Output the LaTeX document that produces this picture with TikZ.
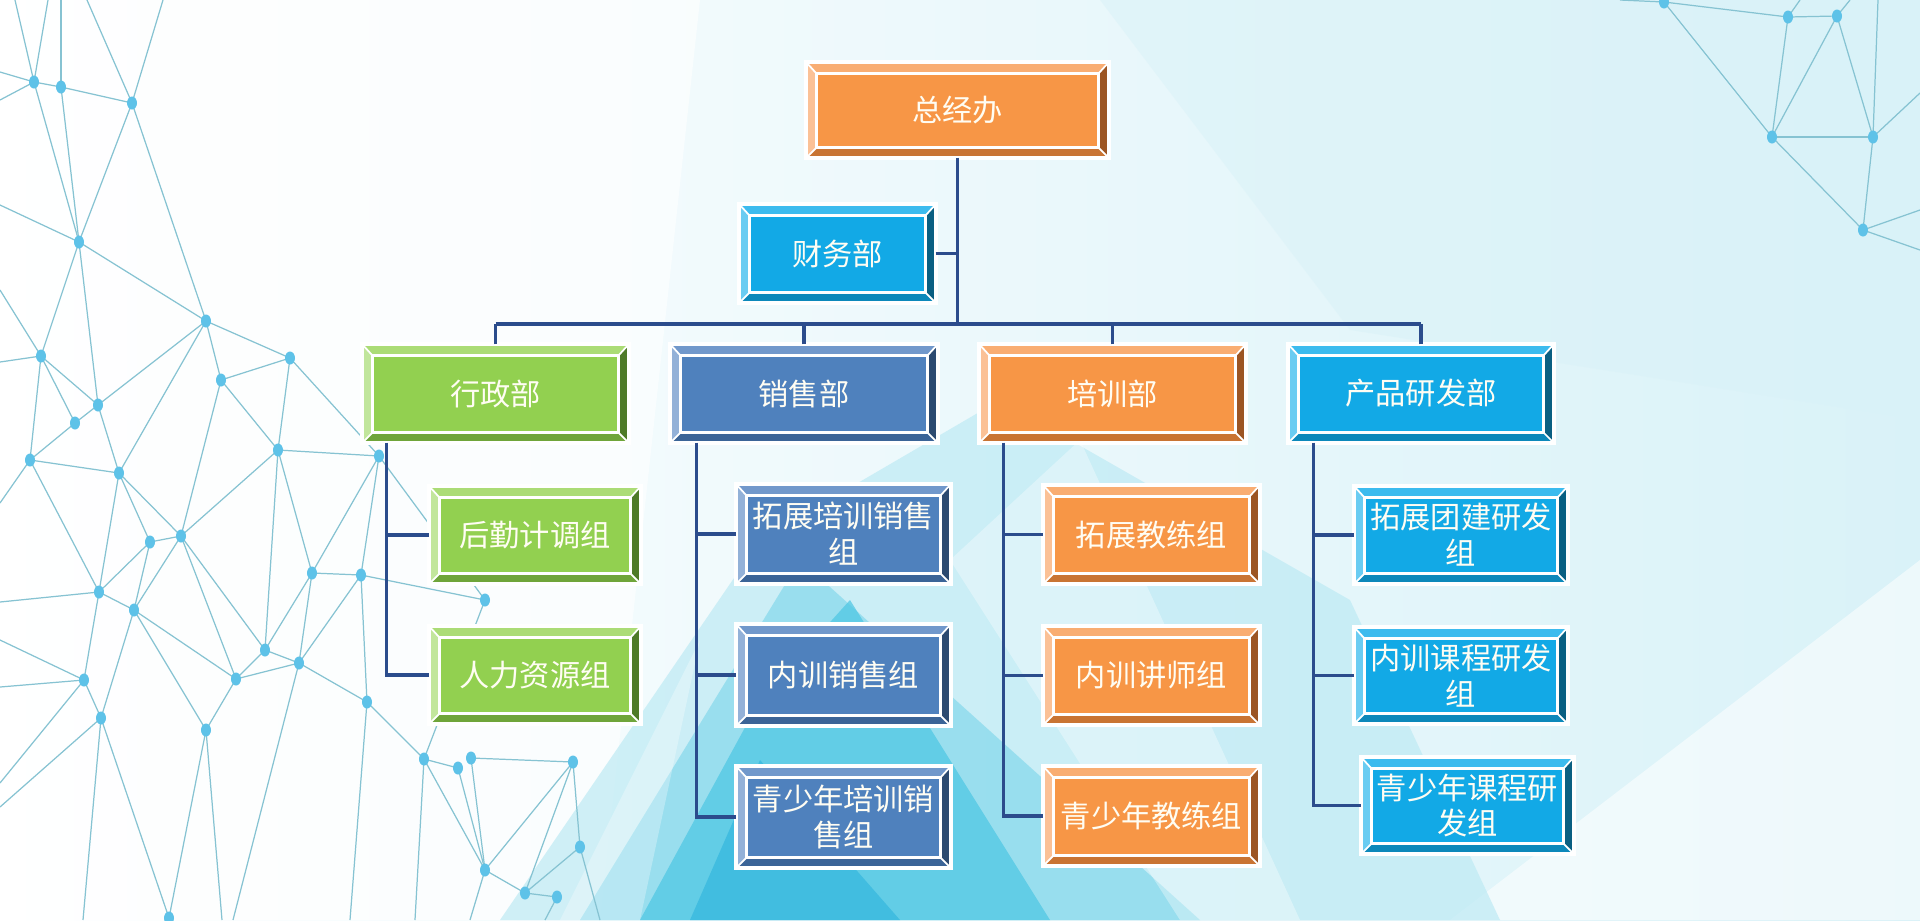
\documentclass[tikz,border=0pt]{standalone}
\usepackage{fontspec}
\setmainfont{Noto Sans CJK SC}
\usetikzlibrary{calc}
\definecolor{orM}{HTML}{F79646}\definecolor{orT}{HTML}{F9AD72}\definecolor{orL}{HTML}{FBC196}\definecolor{orR}{HTML}{9C5523}\definecolor{orB}{HTML}{C97433}
\definecolor{cyM}{HTML}{12A9E6}\definecolor{cyT}{HTML}{3CBBEE}\definecolor{cyL}{HTML}{6ACCF2}\definecolor{cyR}{HTML}{0A5F82}\definecolor{cyB}{HTML}{0C88BA}
\definecolor{sbM}{HTML}{4F81BD}\definecolor{sbT}{HTML}{7198CB}\definecolor{sbL}{HTML}{93B1D8}\definecolor{sbR}{HTML}{2C4A70}\definecolor{sbB}{HTML}{3B6497}
\definecolor{grM}{HTML}{92D050}\definecolor{grT}{HTML}{ABDC76}\definecolor{grL}{HTML}{C2E69C}\definecolor{grR}{HTML}{4E7A28}\definecolor{grB}{HTML}{6FA53A}
\definecolor{lineblue}{HTML}{2B4C8C}
\definecolor{netline}{HTML}{86C3D2}
\definecolor{netdot}{HTML}{5EC2E8}
\definecolor{txt}{HTML}{FFFDF3}
\definecolor{bgR}{HTML}{D9F2F8}
\definecolor{bgA}{HTML}{BDEAF4}
\definecolor{bgB}{HTML}{84D8EC}
\definecolor{bgC}{HTML}{4CC6E3}
\definecolor{bgD}{HTML}{22AEDB}
\tikzset{
  boxtext/.style={inner sep=0pt, align=center, text=txt, font=\fontsize{8.6}{10.2}\selectfont},
  conn/.style={draw=lineblue, line width=0.9pt},
  net/.style={draw=netline, line width=0.35pt},
  netnode/.style={fill=netdot},
  whiteline/.style={draw=white, line width=0.8pt},
}
\newcommand\bvbox[7]{%
  \node[boxtext, fill=#6M, minimum width=#4*0.01cm, minimum height=#5*0.01cm] (#1) at (#2,#3) {#7};
  \fill[#6T] (#1.north west) -- (#1.north east) -- ($(#1.north east)+(-10,11)$) -- ($(#1.north west)+(10,11)$) -- cycle;
  \fill[#6L] (#1.north west) -- ($(#1.north west)+(10,11)$) -- ($(#1.south west)+(10,-10)$) -- (#1.south west) -- cycle;
  \fill[#6R] (#1.north east) -- ($(#1.north east)+(-10,11)$) -- ($(#1.south east)+(-10,-10)$) -- (#1.south east) -- cycle;
  \fill[#6B] (#1.south west) -- ($(#1.south west)+(10,-10)$) -- ($(#1.south east)+(-10,-10)$) -- (#1.south east) -- cycle;
  \draw[whiteline] ($(#1.north west)+(10,11)$) rectangle ($(#1.south east)+(-10,-10)$);
  \draw[whiteline, line width=0.5pt] (#1.north west) -- ($(#1.north west)+(10,11)$) (#1.north east) -- ($(#1.north east)+(-10,11)$)
     (#1.south west) -- ($(#1.south west)+(10,-10)$) (#1.south east) -- ($(#1.south east)+(-10,-10)$);
  \draw[whiteline, line width=1.1pt] (#1.north west) rectangle (#1.south east);
}
\begin{document}
\begin{tikzpicture}[x=0.01cm,y=-0.01cm]
\useasboundingbox (0,0) rectangle (1920,920);
% background
\shade[left color=white, right color=bgR] (0,0) rectangle (1920,920);
\fill[white, opacity=0.6] (0,0) -- (700,0) -- (600,920) -- (0,920) -- cycle;
\fill[bgR, opacity=0.5] (1100,0) -- (1920,0) -- (1920,420) -- (1350,330) -- cycle;
\fill[white, opacity=0.55] (1450,920) -- (1920,560) -- (1920,920) -- cycle;
\fill[bgA, opacity=0.7] (500,920) -- (760,540) -- (1000,400) -- (1350,600) -- (1500,920) -- cycle;
\fill[bgB, opacity=0.7] (580,920) -- (800,560) -- (1200,920) -- cycle;
\fill[bgC, opacity=0.7] (640,920) -- (760,700) -- (850,600) -- (1050,920) -- cycle;
\fill[bgD, opacity=0.5] (690,920) -- (760,760) -- (900,920) -- cycle;
\fill[white, opacity=0.35] (950,560) -- (1080,440) -- (1300,920) -- (1180,920) -- cycle;
\fill[white, opacity=0.3] (560,920) -- (700,640) -- (640,920) -- cycle;
% network
\foreach \n/\x/\y in {a/34/82,b/61/87,c/132/103,d/79/242,e/206/321,f/41/356,g/98/405,h/75/423,i/221/380,j/290/358,k/278/450,l/30/460,n/119/473,p/150/542,q/181/536,r/312/573,s/99/592,t/134/610,u/265/650,v/299/663,w/236/679,x/84/680,y/101/718,z/206/730,aa/169/918,bb/379/456,dd/361/575,ee/485/600,gg/367/702,hh/424/759,ii/458/768,jj/471/758,kk/573/762,ll/580/847,mm/485/870,nn/525/893,oo/557/897,
  pa/1664/2,pb/1788/17,pc/1837/16,pd/1772/137,pe/1873/137,pf/1863/230}
  \coordinate (\n) at (\x,\y);
\foreach \x/\y/\m in {15/0/a,48/0/a,61/0/b,87/0/c,163/0/c,0/72/a,0/100/a,0/205/d,0/290/f,0/362/f,0/503/l,0/602/s,0/640/x,0/687/x,0/783/x,0/807/y,83/920/y,222/920/z,233/920/v,350/920/gg,415/920/hh,470/920/mm,545/920/oo,600/920/ll,
  1878/0/pe,1920/93/pe,1920/210/pf,1920/250/pf,1800/0/pb,1850/0/pc,1620/0/pa}
  \draw[net] (\x,\y) -- (\m);
\foreach \s/\t in {a/b,b/c,a/d,b/d,c/d,c/e,d/e,d/f,d/g,f/g,f/h,f/l,h/g,h/l,g/e,e/i,e/j,i/j,i/k,j/k,j/bb,k/bb,g/n,e/n,i/q,
  l/n,l/s,n/p,n/s,n/q,p/q,p/s,p/t,q/k,q/t,q/w,q/u,k/r,k/u,r/u,s/t,s/x,t/w,t/z,t/y,x/y,y/aa,u/v,u/w,w/v,w/z,z/aa,r/v,r/dd,bb/r,bb/dd,bb/ee,dd/ee,dd/v,dd/gg,v/gg,ee/hh,gg/hh,hh/ii,hh/mm,jj/kk,jj/mm,ii/mm,kk/mm,kk/ll,kk/nn,ll/nn,mm/nn,nn/oo,
  pa/pb,pb/pc,pa/pd,pb/pd,pc/pd,pc/pe,pd/pe,pd/pf,pe/pf}
  \draw[net] (\s) -- (\t);
\foreach \n in {a,b,c,d,e,f,g,h,i,j,k,l,n,p,q,r,s,t,u,v,w,x,y,z,aa,bb,dd,ee,gg,hh,ii,jj,kk,ll,mm,nn,oo,pa,pb,pc,pd,pe,pf}
  \fill[netnode] (\n) ellipse [x radius=5, y radius=6.5];
% boxes
\bvbox{top}{957.5}{110}{301}{94}{or}{总经办}
\bvbox{fin}{837.5}{253.5}{195}{97}{cy}{财务部}
\bvbox{d1}{495.5}{393.5}{265}{97}{gr}{行政部}
\bvbox{d2}{804}{393.5}{266}{97}{sb}{销售部}
\bvbox{d3}{1112.5}{393.5}{265}{97}{or}{培训部}
\bvbox{d4}{1421}{393.5}{264}{97}{cy}{产品研发部}
\bvbox{c11}{535}{535}{210}{96}{gr}{后勤计调组}
\bvbox{c12}{535}{675}{210}{96}{gr}{人力资源组}
\bvbox{c21}{843.5}{534}{213}{98}{sb}{拓展培训销售\\组}
\bvbox{c22}{843.5}{675}{213}{100}{sb}{内训销售组}
\bvbox{c23}{843.5}{817}{213}{100}{sb}{青少年培训销\\售组}
\bvbox{c31}{1151.5}{534.5}{215}{97}{or}{拓展教练组}
\bvbox{c32}{1151.5}{675.5}{215}{97}{or}{内训讲师组}
\bvbox{c33}{1151.5}{816}{215}{98}{or}{青少年教练组}
\bvbox{c41}{1461}{535}{212}{96}{cy}{拓展团建研发\\组}
\bvbox{c42}{1461}{675.5}{212}{95}{cy}{内训课程研发\\组}
\bvbox{c43}{1467.5}{805.5}{211}{95}{cy}{青少年课程研\\发组}
% connectors
\coordinate (bus) at (top.south |- 0,324);
\draw[conn] (top.south) -- (bus);
\draw[conn] (fin.east) -- (fin.east -| top.south);
\draw[conn] (d1.north |- bus) -- (d4.north |- bus);
\foreach \d in {d1,d2,d3,d4} \draw[conn] (\d.north) -- (\d.north |- bus);
\coordinate (v1) at ($(d1.south west)+(24,0)$);
\coordinate (v2) at ($(d2.south west)+(26,0)$);
\coordinate (v3) at ($(d3.south west)+(24,0)$);
\coordinate (v4) at ($(d4.south west)+(25,0)$);
\draw[conn] (v1) |- (c12.west); \draw[conn] (v1 |- c11.west) -- (c11.west);
\draw[conn] (v2) |- (c23.west); \draw[conn] (v2 |- c21.west) -- (c21.west); \draw[conn] (v2 |- c22.west) -- (c22.west);
\draw[conn] (v3) |- (c33.west); \draw[conn] (v3 |- c31.west) -- (c31.west); \draw[conn] (v3 |- c32.west) -- (c32.west);
\draw[conn] (v4) |- (c43.west); \draw[conn] (v4 |- c41.west) -- (c41.west); \draw[conn] (v4 |- c42.west) -- (c42.west);
\end{tikzpicture}
\end{document}
